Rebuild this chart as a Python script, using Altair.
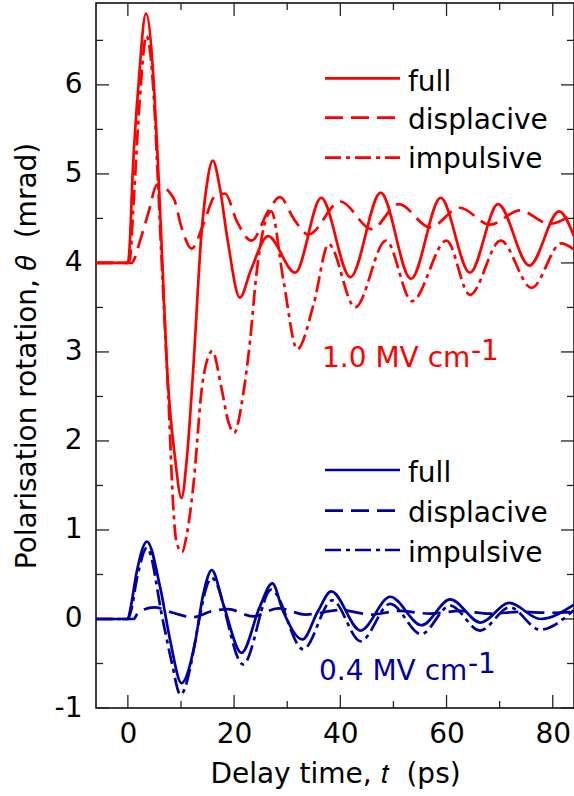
import altair as alt
import pandas as pd

# ---------------- data ----------------
# 1.0 MV/cm (red)
red_full_t = [-6, 0, 0.3, 0.9, 2.0, 3.4, 4.9, 5.6, 6.5, 7.3, 8.9, 10.1, 11.1, 12.3, 13.9, 14.8,
              16.0, 17.3, 18.8, 21.1, 23.1, 26.4, 31.5, 36.4, 41.9, 47.6, 53.3, 58.9, 64.4,
              69.7, 75.6, 81.2, 84]
red_full_v = [4.0, 4.0, 4.15, 5.0, 6.0, 6.8, 6.0, 5.2, 4.0, 2.9, 1.8, 1.36, 1.8, 2.8, 4.36, 4.85,
              5.15, 4.85, 4.25, 3.61, 3.91, 4.30, 3.89, 4.73, 3.84, 4.79, 3.82, 4.73, 3.89,
              4.66, 3.97, 4.58, 4.30]

red_disp_t = [-6, 0.8, 1.2, 2.0, 3.9, 5.5, 8.6, 10.1, 12.0, 14.2, 16.4, 18.3, 20.5, 23.3, 26.4,
              28.6, 31.4, 34.0, 40.0, 45.9, 51.0, 56.9, 62.5, 68.2, 73.8, 79.4, 84]
red_disp_v = [4.0, 4.0, 4.04, 4.19, 4.57, 4.88, 4.73, 4.40, 4.16, 4.43, 4.75, 4.78, 4.47, 4.25, 4.58,
              4.74, 4.48, 4.32, 4.69, 4.38, 4.66, 4.40, 4.62, 4.43, 4.59, 4.44, 4.56]

red_imp_t = [-6, 0, 0.4, 1.1, 2.2, 3.5, 4.9, 5.6, 6.5, 7.6, 8.6, 9.1, 10.2, 11.1, 12.3, 14.1,
             15.9, 17.6, 18.9, 20.0, 21.7, 23.0, 24.2, 27.0, 29.3, 31.9, 35.0, 37.8, 42.8,
             48.6, 53.5, 60.0, 64.4, 70.2, 76.0, 81.6, 84]
red_imp_v = [4.0, 4.0, 4.05, 4.7, 5.8, 6.55, 5.85, 5.0, 3.85, 2.53, 1.21, 0.88, 0.75, 0.95, 1.48, 2.67,
             3.01, 2.60, 2.22, 2.09, 2.52, 3.12, 3.87, 4.58, 3.80, 3.03, 3.54, 4.21, 3.50,
             4.25, 3.57, 4.25, 3.64, 4.25, 3.72, 4.22, 4.15]

# 0.4 MV/cm (blue)
blue_full_t = [-6, 0, 0.4, 1.7, 3.6, 6.1, 8.0, 10.1, 12.6, 14.2, 15.8, 18.0, 21.4, 24.8, 27.2,
               29.2, 32.9, 35.8, 38.3, 43.8, 49.4, 55.3, 60.7, 66.4, 71.8, 77.7, 84]
blue_full_v = [0.0, 0.0, 0.09, 0.54, 0.87, 0.35, -0.25, -0.72, -0.28, 0.28, 0.55, 0.16, -0.38, 0.13, 0.40,
               0.09, -0.23, 0.09, 0.31, -0.13, 0.25, -0.07, 0.22, -0.04, 0.18, 0.0, 0.16]

blue_disp_t = [-6, 1.1, 1.9, 5.0, 8.5, 12.2, 15.9, 18.9, 23.6, 28.3, 33.5, 40.0, 45.9, 51.0,
               56.9, 62.5, 68.2, 73.8, 79.4, 84]
blue_disp_v = [0.0, 0.0, 0.07, 0.13, 0.07, 0.02, 0.09, 0.11, 0.03, 0.12, 0.05, 0.10, 0.05, 0.09,
               0.06, 0.09, 0.06, 0.08, 0.07, 0.08]

blue_imp_t = [-6, 0, 0.5, 1.8, 3.6, 6.6, 8.2, 9.9, 15.8, 21.7, 27.0, 33.0, 38.5, 43.8, 49.4,
              55.2, 60.7, 66.3, 71.9, 77.6, 84]
blue_imp_v = [0.0, 0.0, 0.07, 0.48, 0.80, -0.02, -0.47, -0.85, 0.46, -0.51, 0.33, -0.34, 0.21, -0.25, 0.17,
              -0.17, 0.15, -0.13, 0.13, -0.12, 0.10]

x_major = [0, 20, 40, 60, 80]
x_minor = [10, 30, 50, 70]
y_major = [-1, 0, 1, 2, 3, 4, 5, 6]
y_minor = [-0.5, 0.5, 1.5, 2.5, 3.5, 4.5, 5.5, 6.5]

legend_labels = ["full", "displacive", "impulsive"]
field_labels = ["1.0 MV cm", "0.4 MV cm"]
superscript = "-1"

# ---------------- styling ----------------
W, H = 478, 705
XDOM = [-6, 84]
YDOM = [-1, 6.92]
FONT = "DejaVu Sans"
FS = 28
RED = "#ff0000"
BLUE = "#0000a0"
DASH = [18, 8]
DASHDOT = [16, 5, 4, 5]
LW = 2.7
TICK_COLOR = "#222222"
NB = "\u00a0"

x_axis = alt.Axis(values=x_major, ticks=False, domain=False, grid=False,
                  labelFont=FONT, labelFontSize=FS, labelColor="black", labelPadding=12,
                  title="Delay time, \U0001D461" + NB + NB + "(ps)", titleFont=FONT, titleFontSize=FS,
                  titleFontWeight="normal", titleColor="black",
                  titleX=W / 2, titleY=74, titleBaseline="alphabetic")
y_axis = alt.Axis(values=y_major, ticks=False, domain=False, grid=False,
                  labelFont=FONT, labelFontSize=FS, labelColor="black", labelPadding=14,
                  labelExpr="'' + datum.value",
                  title="Polarisation rotation, \U0001D703" + NB + NB + "(mrad)", titleFont=FONT,
                  titleFontSize=FS, titleFontWeight="normal", titleColor="black",
                  titleX=-61, titleY=H / 2, titleAngle=270, titleBaseline="alphabetic")


def xenc(field):
    return alt.X(f"{field}:Q", scale=alt.Scale(domain=XDOM, nice=False, zero=False), axis=x_axis)


def yenc(field):
    return alt.Y(f"{field}:Q", scale=alt.Scale(domain=YDOM, nice=False, zero=False), axis=y_axis)


def curve(t, v, color, dash=None):
    df = pd.DataFrame({"t": t, "v": v})
    kw = dict(color=color, strokeWidth=LW, interpolate="monotone", clip=True)
    if dash:
        kw["strokeDash"] = dash
    return alt.Chart(df).mark_line(**kw).encode(x=xenc("t"), y=yenc("v"))


def xticks(vals, length, top):
    df = pd.DataFrame({"v": vals})
    if top:
        yy, yy2 = alt.value(0), alt.value(length)
    else:
        yy, yy2 = alt.value(H), alt.value(H - length)
    return alt.Chart(df).mark_rule(color=TICK_COLOR, strokeWidth=1.3).encode(
        x=xenc("v"), y=yy, y2=yy2)


def yticks(vals, length, right):
    df = pd.DataFrame({"v": vals})
    if right:
        xx, xx2 = alt.value(W), alt.value(W - length)
    else:
        xx, xx2 = alt.value(0), alt.value(length)
    return alt.Chart(df).mark_rule(color=TICK_COLOR, strokeWidth=1.3).encode(
        y=yenc("v"), x=xx, x2=xx2)


dummy = pd.DataFrame({"a": [0]})


def leg_line(y, color, dash=None):
    kw = dict(color=color, strokeWidth=LW)
    if dash:
        kw["strokeDash"] = dash
    return alt.Chart(dummy).mark_rule(**kw).encode(
        x=alt.value(229), x2=alt.value(304), y=alt.value(y))


def label(txt, x, y, color="black"):
    return alt.Chart(dummy).mark_text(text=txt, align="left", baseline="alphabetic",
                                      font=FONT, fontSize=FS, color=color).encode(
        x=alt.value(x), y=alt.value(y))


layers = [
    xticks(x_major, 13, False), xticks(x_minor, 7, False),
    xticks(x_major, 13, True), xticks(x_minor, 7, True),
    yticks(y_major, 13, False), yticks(y_minor, 7, False),
    yticks(y_major, 13, True), yticks(y_minor, 7, True),
    curve(red_disp_t, red_disp_v, RED, DASH),
    curve(red_imp_t, red_imp_v, RED, DASHDOT),
    curve(red_full_t, red_full_v, RED),
    curve(blue_disp_t, blue_disp_v, BLUE, DASH),
    curve(blue_imp_t, blue_imp_v, BLUE, DASHDOT),
    curve(blue_full_t, blue_full_v, BLUE),
    # legends
    leg_line(75.3, RED), leg_line(114.7, RED, DASH), leg_line(154.7, RED, DASHDOT),
    label(legend_labels[0], 312, 87.7), label(legend_labels[1], 312, 126.3),
    label(legend_labels[2], 312, 165.3),
    leg_line(467, BLUE), leg_line(507.7, BLUE, DASH), leg_line(547, BLUE, DASHDOT),
    label(legend_labels[0], 312, 478.7), label(legend_labels[1], 312, 518.7),
    label(legend_labels[2], 312, 558.7),
    # field annotations
    label(field_labels[0], 226, 363.7, RED), label(superscript, 375, 357, RED),
    label(field_labels[1], 223, 677, BLUE), label(superscript, 372, 670, BLUE),
]

chart = alt.layer(*layers).properties(
    width=W, height=H,
    autosize=alt.AutoSizeParams(type="none"),
    padding={"left": 96, "top": 3, "right": 0, "bottom": 88},
).configure_view(stroke="black", strokeWidth=1.5)

chart.save("out.html", embed_options={"renderer": "svg", "actions": False})
